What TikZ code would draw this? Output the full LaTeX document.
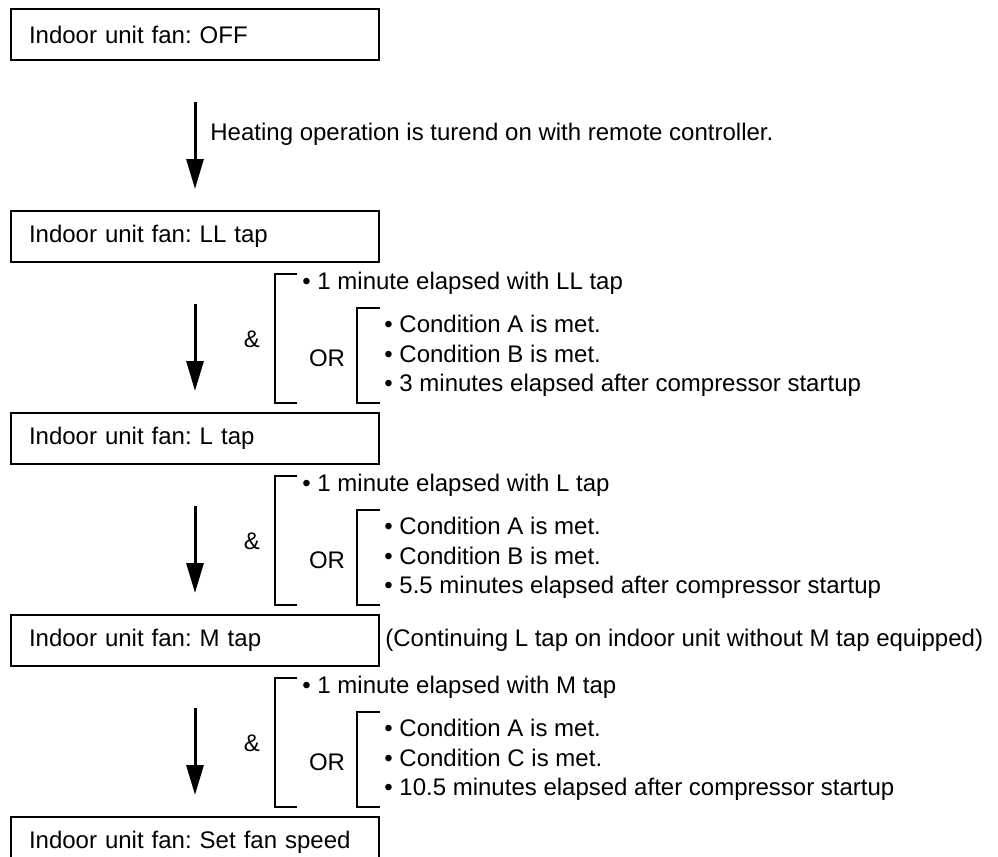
\documentclass[tikz,border=0pt]{standalone}
\usepackage{fontspec}
\setmainfont{Liberation Sans}
\frenchspacing
\usetikzlibrary{arrows.meta, positioning, calc}

\tikzset{
  fanbox/.style={draw, line width=1pt, minimum width=184pt, minimum height=25.5pt,
    text width=166pt, align=left, inner xsep=9pt, inner ysep=0pt},
  flow/.style={line width=1.5pt, -{Triangle[length=15pt,width=8.5pt]},
    shorten <=20.5pt, shorten >=10.5pt},
  bracket/.style={line width=0.9pt},
  cond/.style={anchor=west, inner sep=0pt, align=left},
}

\begin{document}
\begin{tikzpicture}[x=0.5pt, y=-0.5pt, font=\fontsize{12}{14.75}\selectfont]
  \useasboundingbox (0,0) rectangle (998,857);

  % fan taps, top to bottom
  \node[fanbox, anchor=north west] (off) at (10,8) {Indoor unit fan: OFF};
  \node[fanbox, below=74.5pt of off] (ll) {Indoor unit fan: LL tap};
  \node[fanbox, below=74.5pt of ll] (l) {Indoor unit fan: L tap};
  \node[fanbox, below=74.5pt of l] (m) {Indoor unit fan: M tap};
  \node[fanbox, below=74.5pt of m] (set) {Indoor unit fan: Set fan speed};
  \node[cond, right=2.5pt of m] (nom) {(Continuing L tap on indoor unit without M tap equipped)};

  \draw[flow] (off) -- (ll);
  \node[cond] (heat) at ($(off.south west)+(200,73)$) {Heating operation is turend on with remote controller.};

  % conditions between taps
  \foreach \up/\dn/\tap/\cnd/\mn in {ll/l/LL/B/3, l/m/L/B/5.5, m/set/M/C/10.5}{
    \draw[flow] (\up) -- (\dn);
    \draw[bracket] ($(\up.south west)+(287,11)$) -| ($(\up.south west)+(265,140)$) -- ++(22,0);
    \draw[bracket] ($(\up.south west)+(370,45)$) -| ($(\up.south west)+(347,140)$) -- ++(23,0);
    \node (\up-and) at ($(\up.south west)+(242,76)$) {\&};
    \node (\up-or) at ($(\up.south west)+(317,95)$) {OR};
    \node[cond] (\up-wait) at ($(\up.south west)+(292,20)$) {• 1 minute elapsed with \tap\ tap};
    \node[cond] (\up-any) at ($(\up.south west)+(374,93)$)
      {• Condition A is met.\\• Condition \cnd\ is met.\\• \mn\ minutes elapsed after compressor startup};
  }
\end{tikzpicture}
\end{document}
